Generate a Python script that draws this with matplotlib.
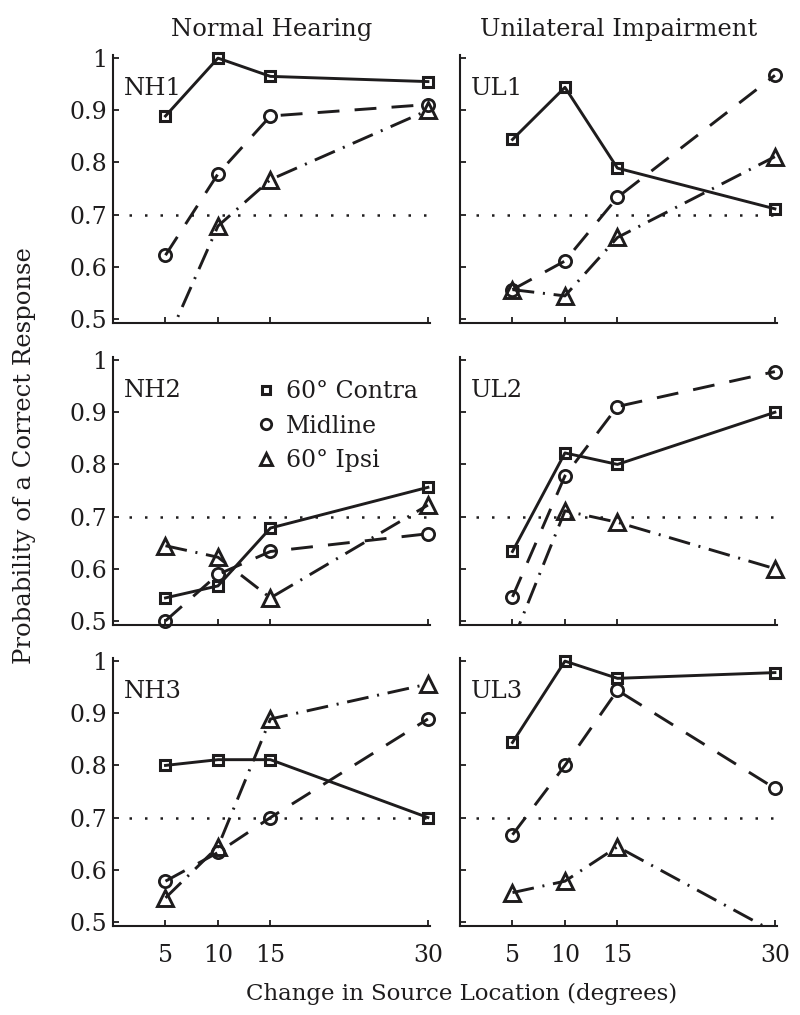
import numpy as np
import matplotlib.pyplot as plt
from matplotlib.lines import Line2D

plt.rcParams['font.family'] = 'DejaVu Serif'

INK = '#1e1c1d'

# ── data ──────────────────────────────────────────────────────────────────────
change_deg = [5, 10, 15, 30]
xtick_labels = ['5', '10', '15', '30']
ytick_vals = [0.5, 0.6, 0.7, 0.8, 0.9, 1.0]
ytick_labels = ['0.5', '0.6', '0.7', '0.8', '0.9', '1']
criterion = 0.7

nh1_contra = [0.889, 1.000, 0.965, 0.955]
nh1_mid    = [0.622, 0.778, 0.889, 0.911]
nh1_ipsi   = [0.450, 0.678, 0.767, 0.900]

ul1_contra = [0.844, 0.944, 0.789, 0.711]
ul1_mid    = [0.556, 0.611, 0.733, 0.967]
ul1_ipsi   = [0.556, 0.544, 0.656, 0.811]

nh2_contra = [0.544, 0.567, 0.678, 0.756]
nh2_mid    = [0.500, 0.589, 0.633, 0.667]
nh2_ipsi   = [0.644, 0.622, 0.544, 0.722]

ul2_contra = [0.633, 0.822, 0.800, 0.900]
ul2_mid    = [0.546, 0.778, 0.911, 0.978]
ul2_ipsi   = [0.460, 0.711, 0.689, 0.600]

nh3_contra = [0.800, 0.811, 0.811, 0.700]
nh3_mid    = [0.578, 0.633, 0.700, 0.889]
nh3_ipsi   = [0.546, 0.644, 0.889, 0.956]

ul3_contra = [0.844, 1.000, 0.967, 0.978]
ul3_mid    = [0.667, 0.800, 0.944, 0.756]
ul3_ipsi   = [0.556, 0.578, 0.644, 0.480]

series_names = ['60° Contra', 'Midline', '60° Ipsi']
col_titles = ['Normal Hearing', 'Unilateral Impairment']

panels = [  # (row, col, label, [contra, midline, ipsi])
    (0, 0, 'NH1', [nh1_contra, nh1_mid, nh1_ipsi]),
    (0, 1, 'UL1', [ul1_contra, ul1_mid, ul1_ipsi]),
    (1, 0, 'NH2', [nh2_contra, nh2_mid, nh2_ipsi]),
    (1, 1, 'UL2', [ul2_contra, ul2_mid, ul2_ipsi]),
    (2, 0, 'NH3', [nh3_contra, nh3_mid, nh3_ipsi]),
    (2, 1, 'UL3', [ul3_contra, ul3_mid, ul3_ipsi]),
]

# ── styles ────────────────────────────────────────────────────────────────────
LW = 2.1
styles = [
    dict(ls='-',                     marker='s', ms=7.2, mew=2.2),
    dict(ls=(0, (7.5, 5.2)),         marker='o', ms=8.8, mew=2.0),
    dict(ls=(0, (7.5, 3, 0.7, 3)),   marker='^', ms=11.0, mew=2.1),
]
YLIM = (0.492, 1.006)
XLIM = (0, 30.2)

# ── layout (pixel boxes of the 800 x 1015 reference) ─────────────────────────
W, H = 800, 1015
col_left = [113, 460]
row_top = [55, 357, 658]
ax_w, ax_h = 317, 268

fig = plt.figure(figsize=(W / 100, H / 100), dpi=100)
fig.patch.set_facecolor('white')

for row, col, label, ys in panels:
    ax = fig.add_axes([col_left[col] / W, 1 - (row_top[row] + ax_h) / H,
                       ax_w / W, ax_h / H])
    x = np.array(change_deg, dtype=float)

    # criterion line
    ax.plot([1.5, 30], [criterion, criterion], color=INK, lw=1.8,
            ls=(0, (1, 5.2)), zorder=1)

    for y, st in zip(ys, styles):
        y = np.array(y)
        ax.plot(x, y, color=INK, lw=LW, ls=st['ls'], zorder=2)
        vis = y >= YLIM[0]
        ax.plot(x[vis], y[vis], ls='none', marker=st['marker'], ms=st['ms'],
                mfc='none', mec=INK, mew=st['mew'], clip_on=False, zorder=3)

    ax.set_xlim(*XLIM)
    ax.set_ylim(*YLIM)
    ax.set_xticks(change_deg)
    ax.set_yticks(ytick_vals)
    ax.set_xticklabels(xtick_labels if row == 2 else [])
    ax.set_yticklabels(ytick_labels if col == 0 else [])
    for s in ['top', 'right']:
        ax.spines[s].set_visible(False)
    for s in ['left', 'bottom']:
        ax.spines[s].set_linewidth(1.5)
        ax.spines[s].set_color(INK)
    ax.tick_params(axis='both', direction='in', length=4, width=1.3,
                   colors=INK, labelsize=17)
    ax.tick_params(axis='x', pad=13)
    ax.tick_params(axis='y', pad=4)

    ax.text(0.035, 0.851, label, transform=ax.transAxes, fontsize=17.5,
            color=INK, va='baseline', ha='left')

    if row == 0:
        ax.set_title(col_titles[col], fontsize=17.5, color=INK, pad=14)

    if label == 'NH2':
        handles = [Line2D([], [], ls='none', marker=st['marker'],
                          ms=st['ms'] * 0.85, mfc='none', mec=INK,
                          mew=st['mew'])
                   for st in styles]
        leg = ax.legend(handles, series_names, loc='upper left',
                        bbox_to_anchor=(0.45, 0.915), frameon=False,
                        fontsize=17, handlelength=0.9, handletextpad=0.4,
                        labelspacing=0.5, borderpad=0, borderaxespad=0)
        for t in leg.get_texts():
            t.set_color(INK)

fig.text(462 / W, 1 - 1000 / H, 'Change in Source Location (degrees)',
         fontsize=16.5, color=INK, ha='center', va='baseline')
fig.text(25 / W, 1 - 456 / H, 'Probability of a Correct Response',
         fontsize=17.5, color=INK, ha='center', va='center', rotation=90)

fig.savefig('out.png', dpi=100)
